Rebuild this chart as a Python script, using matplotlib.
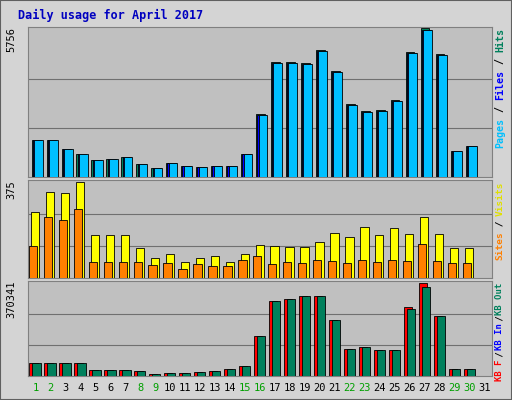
import numpy as np
import matplotlib.pyplot as plt
from matplotlib.patches import Rectangle

days = np.arange(1, 32)
weekends = [1, 2, 8, 9, 15, 16, 22, 23, 29, 30]

pages = [1450, 1450, 1100, 900, 670, 700, 780, 510, 350, 550, 430, 390, 430, 430, 900,
         2430, 4460, 4460, 4420, 4930, 4110, 2820, 2545, 2585, 2975, 4855, 5756, 4780, 1020, 1215, 0]
files = [p * 1.0 for p in pages]
hits = [p * 1.01 for p in pages]
hits_max = 5756

visits = [257, 334, 330, 375, 167, 167, 167, 118, 77, 94, 61, 77, 86, 61, 94,
          130, 126, 122, 122, 139, 175, 159, 200, 167, 196, 171, 240, 171, 118, 118, 0]
sites = [126, 240, 228, 269, 61, 61, 61, 61, 49, 57, 37, 53, 45, 45, 69,
         86, 53, 61, 57, 69, 65, 57, 69, 61, 69, 65, 134, 65, 57, 57, 0]
visits_max = 375

kb_f = [52900, 52900, 52900, 52900, 24400, 24400, 24400, 20000, 8100, 12200, 12200, 16300, 20000,
        28500, 40700, 158700, 297000, 305000, 317000, 317000, 224000, 105800, 114000, 101700,
        101700, 275000, 370341, 240000, 28500, 28500, 0]
kb_out = [52900, 52900, 52900, 52900, 24400, 24400, 24400, 20000, 8100, 12200, 12200, 16300, 20000,
          28500, 40700, 158700, 297000, 305000, 317000, 317000, 224000, 105800, 114000, 101700,
          101700, 264500, 352000, 240000, 28500, 28500, 0]
kb_max = 370341

W, H = 512, 400
MONO = "DejaVu Sans Mono"
BG = "#d4d4d4"
PLOT = "#c0c0c0"


def px_axes(fig, x0, y0, x1, y1):
    return fig.add_axes([x0 / W, 1 - y1 / H, (x1 - x0) / W, (y1 - y0) / H])


def setup(ax, vmax, label):
    ax.set_facecolor(PLOT)
    ax.set_xlim(0.5, 31.5)
    ax.set_ylim(0, vmax * 1.02)
    for f in (1 / 3, 2 / 3):
        ax.axhline(vmax * f, color="#707070", lw=0.8, zorder=0)
    ax.set_xticks([])
    ax.set_yticks([])
    for s in ax.spines.values():
        s.set_color("#808080")
    ax.text(-0.035, 1.0, label, transform=ax.transAxes, rotation=90, ha="center",
            va="top", fontsize=7.5, family=MONO)


def side_label(fig, x, ytop, parts, size=7.2, step=6.0):
    # parts from top to bottom, drawn rotated
    y = ytop
    for txt, col in parts:
        fig.text(x / W, 1 - y / H, txt, rotation=90, ha="center", va="top",
                 fontsize=size, family=MONO, fontweight="bold", color=col)
        y += len(txt) * step


fig = plt.figure(figsize=(W / 100, H / 100), dpi=100)
fig.patch.set_facecolor(BG)
fig.add_artist(Rectangle((0, 0), 1, 1, transform=fig.transFigure, fill=False,
                         ec="#606060", lw=1.5))
fig.text(18 / W, 1 - 15 / H, "Daily usage for April 2017", fontsize=8.5, family=MONO,
         fontweight="bold", color="#0000c0", va="center")

ax1 = px_axes(fig, 28, 27, 492, 177)
setup(ax1, hits_max, str(hits_max))
ax1.bar(days - 0.26, hits, 0.58, color="#00805c", ec="black", lw=0.6, align="edge", zorder=2)
ax1.bar(days - 0.18, files, 0.58, color="#0000ff", ec="black", lw=0.6, align="edge", zorder=3)
ax1.bar(days - 0.1, pages, 0.58, color="#00c0ff", ec="black", lw=0.6, align="edge", zorder=4)
side_label(fig, 500, 28, [("Hits", "#00805c"), (" / ", "black"), ("Files", "#0000ff"),
                          (" / ", "black"), ("Pages", "#00c0ff")])

ax2 = px_axes(fig, 28, 180, 492, 278)
setup(ax2, visits_max, str(visits_max))
ax2.bar(days - 0.3, visits, 0.55, color="#ffff00", ec="black", lw=0.6, align="edge", zorder=2)
ax2.bar(days - 0.45, sites, 0.55, color="#ff8000", ec="black", lw=0.6, align="edge", zorder=3)
side_label(fig, 500, 181, [("Visits", "#e0e000"), (" / ", "black"), ("Sites", "#ff8000")],
           size=6.8, step=5.6)

ax3 = px_axes(fig, 28, 281, 492, 376)
setup(ax3, kb_max, str(kb_max))
ax3.bar(days - 0.4, kb_f, 0.55, color="#ff0000", ec="black", lw=0.6, align="edge", zorder=2)
ax3.bar(days - 0.2, kb_out, 0.55, color="#00805c", ec="black", lw=0.6, align="edge", zorder=3)
side_label(fig, 500, 283, [("KB Out", "#00805c"), (" / ", "black"), ("KB In", "#0000ff"),
                           (" / ", "black"), ("KB F", "#ff0000")], size=6.4, step=4.5)

for d in days:
    x = 28 + (d - 0.5) / 31 * 464
    fig.text(x / W, 1 - 388 / H, str(d), ha="center", va="center", fontsize=7.5,
             family=MONO, color="#00a000" if d in weekends else "black")

fig.savefig("out.png", dpi=100, facecolor=BG)
